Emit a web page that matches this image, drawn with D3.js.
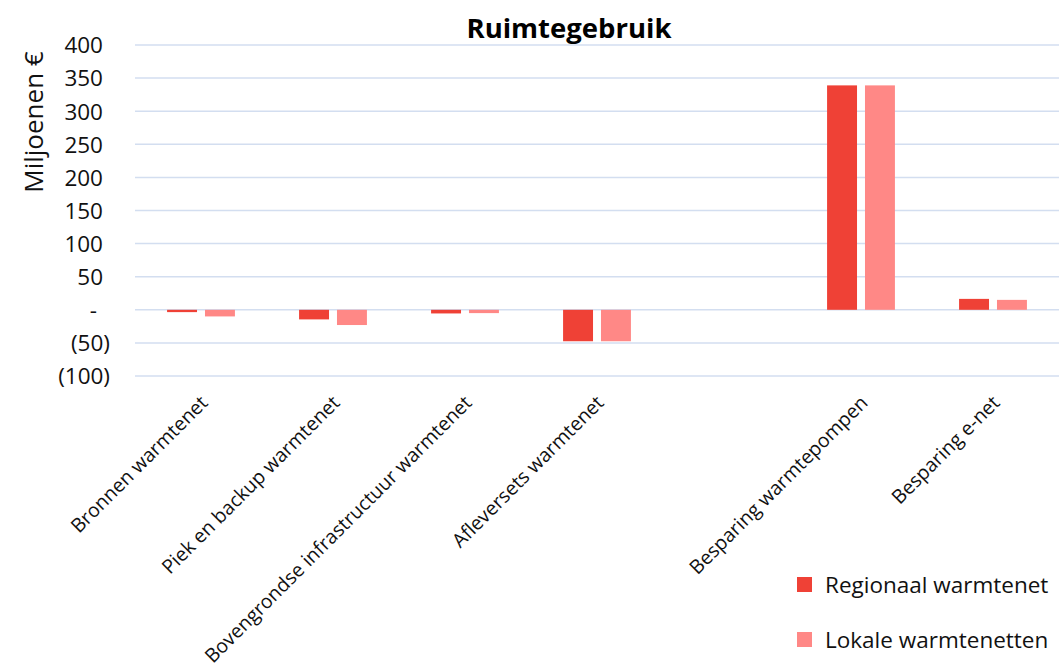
<!DOCTYPE html>
<html>
<head>
<meta charset="utf-8">
<script src="https://cdn.jsdelivr.net/npm/d3@7"></script>
<style>
  html, body { margin: 0; padding: 0; background: #fff; }
  svg { display: block; font-family: "Open Sans", "Noto Sans", sans-serif; }
</style>
</head>
<body>
<svg id="chart" width="1059" height="671"></svg>
<script>
// Categories (one blank slot separates the network costs from the savings)
const categories = [
  "Bronnen warmtenet",
  "Piek en backup warmtenet",
  "Bovengrondse infrastructuur warmtenet",
  "Afleversets warmtenet",
  "",
  "Besparing warmtepompen",
  "Besparing e-net"
];
const seriesNames = ["Regionaal warmtenet", "Lokale warmtenetten"];
const regionaal = [-3.5, -14.5, -5.5, -47.5, null, 339, 16.5];
const lokale    = [-10, -23, -5, -47.5, null, 339, 15];
const yTicks = [-100, -50, 0, 50, 100, 150, 200, 250, 300, 350, 400];
const colors = ["#EF4136", "#FF8886"];

const svg = d3.select("#chart");
const margin = { left: 135, right: 0 };
const W = 1059;

const x0 = d3.scaleBand().domain(categories).range([margin.left, W - margin.right])
  .paddingInner(0.486).paddingOuter(0.243);
const x1 = d3.scaleBand().domain(seriesNames).range([0, x0.bandwidth()]).paddingInner(0.21);
const y = d3.scaleLinear().domain([-100, 400]).range([376, 45]);

// Gridlines
svg.append("g").selectAll("line").data(yTicks).join("line")
  .attr("x1", margin.left).attr("x2", W)
  .attr("y1", d => y(d)).attr("y2", d => y(d))
  .attr("stroke", "#D3DEF0").attr("stroke-width", 1.5);

// Y axis labels (accounting style)
const fmt = d => d < 0 ? `(${Math.abs(d)})` : (d === 0 ? "-" : String(d));
const yAxis = d3.axisLeft(y).tickValues(yTicks).tickFormat(fmt).tickSize(0);
const yg = svg.append("g").attr("transform", "translate(110,0)").call(yAxis);
yg.select(".domain").remove();
yg.selectAll("text")
  .attr("font-family", "'Open Sans', sans-serif")
  .attr("font-size", 22.5).attr("fill", "#111")
  .attr("x", d => d < 0 ? 0 : (d === 0 ? -13 : -7))
  .attr("dy", "0.35em");

// Bars
const rows = categories.map((c, i) => ({ c, vals: [regionaal[i], lokale[i]] }));
const groups = svg.append("g").selectAll("g").data(rows).join("g")
  .attr("transform", d => `translate(${x0(d.c)},0)`);
groups.selectAll("rect")
  .data(d => d.vals.map((v, j) => ({ s: seriesNames[j], v, j })).filter(e => e.v != null))
  .join("rect")
  .attr("x", d => x1(d.s))
  .attr("width", x1.bandwidth())
  .attr("y", d => y(Math.max(0, d.v)))
  .attr("height", d => Math.abs(y(d.v) - y(0)))
  .attr("fill", d => colors[d.j]);

// X category labels, rotated
const xg = svg.append("g");
xg.selectAll("text").data(categories.filter(c => c !== "")).join("text")
  .attr("transform", d => `translate(${x0(d) + x0.bandwidth() / 2 + 8},${404}) rotate(-45)`)
  .attr("text-anchor", "end")
  .attr("font-size", 19.5).attr("fill", "#111")
  .text(d => d);

// Title
svg.append("text").attr("x", 569).attr("y", 38)
  .attr("text-anchor", "middle").attr("font-weight", "bold")
  .attr("font-size", 27.5).attr("fill", "#000")
  .text("Ruimtegebruik");

// Y axis title
svg.append("text")
  .attr("transform", "translate(43,122) rotate(-90)")
  .attr("text-anchor", "middle").attr("font-size", 26).attr("fill", "#111")
  .text("Miljoenen €");

// Legend
const lg = svg.append("g").selectAll("g").data(seriesNames).join("g")
  .attr("transform", (d, i) => `translate(797,${577 + i * 55})`);
lg.append("rect").attr("width", 15).attr("height", 15).attr("fill", (d, i) => colors[i]);
lg.append("text").attr("x", 28).attr("y", 16).attr("font-size", 22.5).attr("fill", "#111").text(d => d);
</script>
</body>
</html>
